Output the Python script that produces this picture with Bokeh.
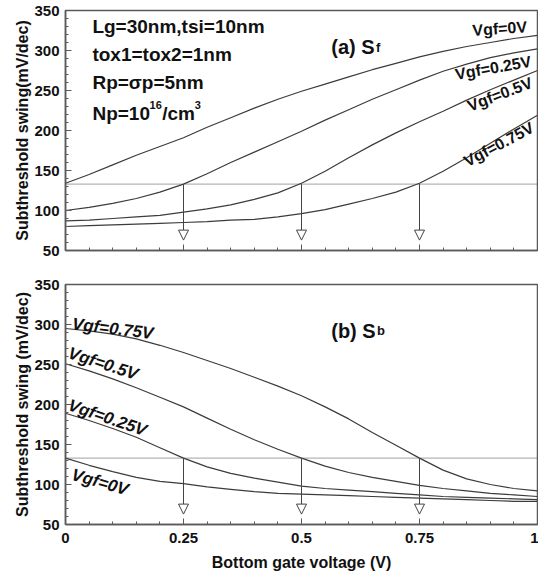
from bokeh.plotting import figure
from bokeh.layouts import column
from bokeh.models import FixedTicker, Arrow, NormalHead, Span, Label, ColumnDataSource
from bokeh.embed import file_html
from bokeh.resources import INLINE

# ---------------- data ----------------
vgb = [0, 0.05, 0.1, 0.15, 0.2, 0.25, 0.3, 0.35, 0.4, 0.45, 0.5,
       0.55, 0.6, 0.65, 0.7, 0.75, 0.8, 0.85, 0.9, 0.95, 1.0]

# (a) Sf  (mV/dec)
sf_vgf0 = [134, 145, 157, 169, 180, 191, 204, 216, 228, 239, 249,
           258, 267, 276, 284, 292, 299, 305, 310, 315, 319]
sf_vgf025 = [100, 104, 109, 115, 123, 133, 146, 160, 173, 186, 199,
             213, 226, 239, 251, 263, 274, 283, 291, 297, 302]
sf_vgf05 = [87, 88, 90, 92, 94, 98, 102, 107, 114, 122, 134,
            149, 166, 182, 197, 211, 224, 238, 251, 263, 275]
sf_vgf075 = [80, 81, 82, 83, 84, 85, 86, 88, 89, 92, 96,
             101, 108, 115, 123, 134, 149, 166, 184, 202, 219]

# (b) Sb  (mV/dec)
sb_vgf075 = [295, 292, 288, 282, 274, 265, 255, 245, 234, 223, 211,
             197, 182, 165, 149, 133, 118, 107, 100, 95, 92]
sb_vgf05 = [251, 242, 232, 221, 209, 197, 183, 169, 156, 144, 133,
            123, 115, 109, 104, 99, 95, 92, 89, 87, 85]
sb_vgf025 = [189, 180, 170, 159, 146, 133, 122, 114, 108, 103, 98,
             95, 93, 91, 89, 87, 85, 84, 83, 82, 81]
sb_vgf0 = [133, 124, 116, 109, 104, 101, 97, 94, 91, 89, 88,
           87, 86, 85, 84, 83, 82, 81, 80, 79, 79]

threshold = 133
arrow_x = [0.25, 0.5, 0.75]
arrow_tip = 63

x_ticks = [0, 0.25, 0.5, 0.75, 1]
x_tick_labels = ["0", "0.25", "0.5", "0.75", "1"]
x_minor = [0.05, 0.1, 0.15, 0.2, 0.3, 0.35, 0.4, 0.45, 0.55, 0.6, 0.65, 0.7,
           0.8, 0.85, 0.9, 0.95]
y_ticks = [50, 100, 150, 200, 250, 300, 350]
y_minor = [60, 70, 80, 90, 110, 120, 130, 140, 160, 170, 180, 190, 210, 220, 230,
           240, 260, 270, 280, 290, 310, 320, 330, 340]

sf_series = [("Vgf=0V", sf_vgf0), ("Vgf=0.25V", sf_vgf025),
             ("Vgf=0.5V", sf_vgf05), ("Vgf=0.75V", sf_vgf075)]
sb_series = [("Vgf=0V", sb_vgf0), ("Vgf=0.25V", sb_vgf025),
             ("Vgf=0.5V", sb_vgf05), ("Vgf=0.75V", sb_vgf075)]

# label placement (x, y, angle) per curve
sf_label_pos = [(0.862, 325, 4), (0.826, 270, 10), (0.853, 230, 21), (0.846, 160, 28)]
sb_label_pos = [(0.014, 113, -16), (0.007, 200, -19), (0.007, 265, -18), (0.014, 301, -7)]

params = ["Lg=30nm,tsi=10nm", "tox1=tox2=1nm", "Rp=\u03c3p=5nm"]
params_y = [330, 295, 260]

FONT = "Liberation Sans"
LINE = "#3c3c3c"
FRAME = "#5a5a5a"


def make_fig(height, mb_top, mb_bottom, ylabel, xlabels):
    p = figure(width=538, height=height, x_range=(0, 1), y_range=(50, 350),
               output_backend="svg", toolbar_location=None,
               min_border_left=65, min_border_right=1, min_border_top=mb_top,
               min_border_bottom=mb_bottom)
    p.grid.visible = False
    p.background_fill_color = "white"
    p.border_fill_color = "white"
    p.outline_line_color = FRAME
    p.outline_line_width = 1.5

    p.xaxis.ticker = FixedTicker(ticks=x_ticks, minor_ticks=x_minor)
    p.yaxis.ticker = FixedTicker(ticks=y_ticks, minor_ticks=y_minor)
    if xlabels:
        p.xaxis.major_label_overrides = {t: l for t, l in zip(x_ticks, x_tick_labels)}
        p.xaxis.axis_label = "Bottom gate voltage (V)"
    else:
        p.xaxis.major_label_overrides = {t: "" for t in x_ticks}
    p.yaxis.axis_label = ylabel
    for ax in (p.xaxis, p.yaxis):
        ax.axis_line_color = FRAME
        ax.axis_line_width = 1.5
        ax.major_tick_line_color = FRAME
        ax.minor_tick_line_color = FRAME
        ax.major_tick_in = 6
        ax.major_tick_out = 0
        ax.minor_tick_in = 3
        ax.minor_tick_out = 0
        ax.major_label_text_font = FONT
        ax.major_label_text_font_style = "bold"
        ax.major_label_text_font_size = "15px"
        ax.major_label_text_color = "#111111"
        ax.axis_label_text_font = FONT
        ax.axis_label_text_font_style = "bold"
        ax.axis_label_text_font_size = "16px"
        ax.axis_label_text_color = "#111111"
    p.yaxis.major_label_standoff = 6
    p.yaxis.axis_label_standoff = 0
    p.xaxis.major_label_standoff = 8
    p.xaxis.axis_label_standoff = 8

    p.add_layout(Span(location=threshold, dimension="width", line_color="#444444",
                      line_dash="1 1", line_width=1))
    src = ColumnDataSource(dict(x=arrow_x, y0=[threshold] * len(arrow_x),
                                y1=[arrow_tip] * len(arrow_x)))
    p.add_layout(Arrow(end=NormalHead(size=10, fill_color="white", line_color="#444444",
                                      line_width=1),
                       x_start="x", y_start="y0", x_end="x", y_end="y1", source=src,
                       line_color="#444444", line_width=1))
    return p


def add_label(p, x, y, text, size, angle=0, style="bold", baseline="middle"):
    p.add_layout(Label(x=x, y=y, text=text, text_font=FONT, text_font_size=f"{size}px",
                       text_font_style=style, angle=angle, angle_units="deg",
                       text_align="left", text_baseline=baseline, text_color="#111111"))


# ---------- top: Sf ----------
p1 = make_fig(276, 10, 26, "Subthreshold swing(mV/dec)", False)
for (name, ys), (lx, ly, la) in zip(sf_series, sf_label_pos):
    p1.line(vgb, ys, line_color=LINE, line_width=1.2)
    add_label(p1, lx, ly, name, 16, la)
for txt, ty in zip(params, params_y):
    add_label(p1, 0.057, ty, txt, 19)
add_label(p1, 0.057, 221, "Np=10", 19, baseline="alphabetic")
add_label(p1, 0.178, 232, "16", 11, baseline="alphabetic")
add_label(p1, 0.205, 221, "/cm", 19, baseline="alphabetic")
add_label(p1, 0.274, 232, "3", 11, baseline="alphabetic")
add_label(p1, 0.563, 304, "(a) S", 20, baseline="alphabetic")
add_label(p1, 0.658, 304, "f", 13, baseline="alphabetic")

# ---------- bottom: Sb ----------
p2 = make_fig(302, 8, 54, "Subthreshold swing (mV/dec)", True)
for (name, ys), (lx, ly, la) in zip(sb_series, sb_label_pos):
    p2.line(vgb, ys, line_color=LINE, line_width=1.2)
    add_label(p2, lx, ly, name, 17, la, style="bold italic")
add_label(p2, 0.563, 292.5, "(b) S", 20, baseline="alphabetic")
add_label(p2, 0.660, 292.5, "b", 13, baseline="alphabetic")

layout = column(p1, p2)

open("out.html", "w").write(file_html(layout, INLINE))
